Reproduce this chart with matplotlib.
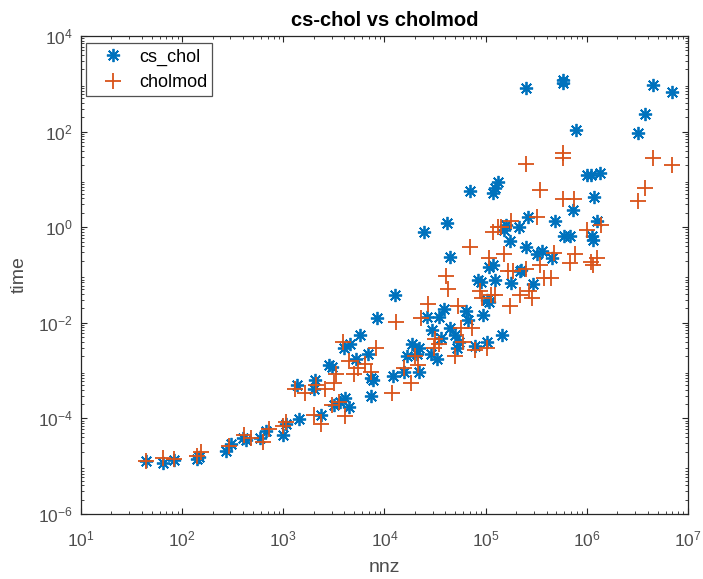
import numpy as np
import matplotlib
matplotlib.use("Agg")
import matplotlib.pyplot as plt
from matplotlib.ticker import LogLocator, NullFormatter

# log10 values
cs_chol_lognnz = [1.642, 1.815, 1.917, 2.15, 2.17, 2.435, 2.48, 2.60, 2.63, 2.77, 2.83, 3.00, 3.03,
                  3.14, 3.16, 3.30, 3.31, 3.37, 3.45, 3.48, 3.50, 3.56, 3.61, 3.65, 3.60, 3.66,
                  3.72, 3.76, 3.84, 3.87, 3.89, 3.87, 3.93, 4.10, 4.08, 4.19, 4.22, 4.27, 4.32,
                  4.34, 4.34, 4.39, 4.42, 4.46, 4.47, 4.52, 4.54, 4.56, 4.59, 4.62, 4.65, 4.65,
                  4.70, 4.72, 4.74, 4.81, 4.83, 4.85, 4.89, 4.92, 4.95, 4.97, 5.01, 5.01, 5.03,
                  5.03, 5.07, 5.07, 5.09, 5.12, 5.09, 5.16, 5.18, 5.20, 5.24, 5.25, 5.33, 5.34,
                  5.35, 5.40, 5.40, 5.42, 5.47, 5.51, 5.56, 5.66, 5.69, 5.76, 5.76, 5.77, 5.83,
                  5.86, 5.89, 6.00, 6.04, 6.05, 6.06, 6.07, 6.10, 6.13, 6.51, 6.58, 6.65, 6.84]
cs_chol_logtime = [-4.90, -4.94, -4.88, -4.84, -4.80, -4.69, -4.54, -4.42, -4.45, -4.42, -4.27, -4.34, -4.11,
                   -3.30, -4.01, -3.38, -3.19, -3.92, -2.88, -2.92, -3.73, -3.65, -3.57, -3.77, -2.53, -2.45,
                   -2.76, -2.26, -2.66, -3.15, -3.19, -3.54, -1.89, -1.41, -3.11, -3.03, -2.69, -2.45, -2.65,
                   -2.53, -3.03, -0.10, -1.88, -2.65, -2.15, -2.76, -1.88, -2.31, -1.72, 0.08, -0.62, -2.11,
                   -2.26, -2.53, -2.41, -1.76, -1.95, 0.75, -2.49, -1.10, -1.14, -1.84, -1.53, -2.41, -0.83,
                   -1.57, -0.80, 0.71, 0.82, 0.94, -1.10, -2.26, -0.06, 0.05, -0.29, -1.17, 0.01, -0.91,
                   -0.89, 2.91, -0.41, 0.21, -1.18, -0.56, -0.49, -0.64, 0.13, 3.07, 3.02, -0.18, -0.18,
                   0.36, 2.04, 1.09, 1.09, -0.18, -0.26, 0.63, 0.13, 1.13, 1.98, 2.37, 2.98, 2.83]

cholmod_lognnz = [1.642, 1.815, 1.917, 2.15, 2.19, 2.46, 2.61, 2.68, 2.80, 2.86, 3.00, 3.03, 3.12,
                  3.21, 3.30, 3.32, 3.37, 3.41, 3.48, 3.50, 3.52, 3.55, 3.59, 3.61, 3.65, 3.70,
                  3.74, 3.81, 3.87, 3.92, 4.07, 4.11, 4.19, 4.26, 4.30, 4.33, 4.36, 4.43, 4.49,
                  4.50, 4.54, 4.61, 4.63, 4.70, 4.73, 4.76, 4.78, 4.85, 4.87, 4.89, 4.94, 4.96,
                  5.01, 5.03, 5.05, 5.07, 5.09, 5.12, 5.15, 5.18, 5.22, 5.24, 5.25, 5.27, 5.34,
                  5.40, 5.40, 5.43, 5.46, 5.51, 5.54, 5.54, 5.58, 5.65, 5.68, 5.76, 5.76, 5.76,
                  5.83, 5.87, 5.88, 6.00, 6.04, 6.06, 6.10, 6.14, 6.51, 6.58, 6.65, 6.84]
cholmod_logtime = [-4.90, -4.83, -4.86, -4.78, -4.71, -4.57, -4.34, -4.42, -4.50, -4.23, -4.15, -4.07, -3.38,
                   -3.46, -3.92, -3.30, -4.11, -3.38, -3.73, -3.26, -3.07, -3.65, -2.41, -3.96, -2.80, -3.07,
                   -2.95, -2.87, -3.03, -2.53, -3.46, -1.99, -2.95, -3.26, -2.69, -2.88, -1.89, -1.61, -2.53,
                   -2.34, -2.45, -1.02, -1.30, -2.69, -1.65, -2.11, -2.41, -0.41, -2.11, -2.57, -1.33, -1.49,
                   -2.53, -0.64, -1.41, -0.10, -1.41, 0.01, 0.01, -0.56, -0.91, -1.65, 0.13, -0.91, -1.41,
                   1.32, -0.87, -1.33, -1.49, 0.21, 0.77, -0.80, -1.06, -1.06, -0.53, 1.55, 1.45, 0.58,
                   -0.76, 0.58, -0.56, -0.06, -0.72, -0.80, -0.64, 0.05, 0.55, 0.82, 1.45, 1.30]

series_labels = ["cs_chol", "cholmod"]
title_text = "cs-chol vs cholmod"
xlabel_text = "nnz"
ylabel_text = "time"

plt.rcParams['font.family'] = ['Liberation Sans', 'DejaVu Sans']
plt.rcParams['mathtext.fontset'] = 'custom'
plt.rcParams['mathtext.rm'] = 'Liberation Sans'
plt.rcParams['mathtext.it'] = 'Liberation Sans'

fig = plt.figure(figsize=(7.03, 5.79), dpi=100)
ax = fig.add_axes([0.1152, 0.1123, 0.8634, 0.8256])

blue = '#0072BD'
orange = '#D95319'

x1 = 10 ** np.array(cs_chol_lognnz)
y1 = 10 ** np.array(cs_chol_logtime)
x2 = 10 ** np.array(cholmod_lognnz)
y2 = 10 ** np.array(cholmod_logtime)

ax.plot(x1, y1, linestyle='none', marker=(8, 2, 0), ms=9.5, mew=1.3, color=blue, label=series_labels[0])
ax.plot(x2, y2, linestyle='none', marker='+', ms=11, mew=1.3, color=orange, label=series_labels[1])

ax.set_xscale('log')
ax.set_yscale('log')
ax.set_xlim(1e1, 1e7)
ax.set_ylim(1e-6, 1e4)
ax.set_xticks([1e1, 1e2, 1e3, 1e4, 1e5, 1e6, 1e7])
ax.set_yticks([1e-6, 1e-4, 1e-2, 1e0, 1e2, 1e4])
ax.xaxis.set_minor_locator(LogLocator(base=10, subs=np.arange(2, 10), numticks=20))
ax.yaxis.set_minor_locator(LogLocator(base=10, subs=np.arange(2, 10), numticks=20))
ax.xaxis.set_minor_formatter(NullFormatter())
ax.yaxis.set_minor_formatter(NullFormatter())

tc = '#262626'
ax.tick_params(which='both', direction='in', top=True, right=True, colors=tc, labelcolor='#4d4d4d')
ax.tick_params(which='major', length=4, width=0.8, labelsize=12.5)
ax.tick_params(axis='x', which='major', pad=11)
ax.tick_params(axis='y', which='major', pad=6)
ax.tick_params(which='minor', length=2.5, width=0.6)
for s in ax.spines.values():
    s.set_color(tc)
    s.set_linewidth(0.9)

ax.set_title(title_text, fontsize=14.5, fontweight='bold', pad=7)
ax.set_xlabel(xlabel_text, fontsize=14, color='#4d4d4d', labelpad=7)
ax.set_ylabel(ylabel_text, fontsize=14, color='#4d4d4d', labelpad=7)

leg = ax.legend(loc='upper left', fontsize=13, frameon=True, fancybox=False,
                edgecolor='#262626', borderpad=0.3, handletextpad=0.3, handlelength=2.3,
                borderaxespad=0, bbox_to_anchor=(0.009, 0.985), labelspacing=0.45)
leg.get_frame().set_linewidth(0.9)

fig.savefig('out.png', dpi=100)
